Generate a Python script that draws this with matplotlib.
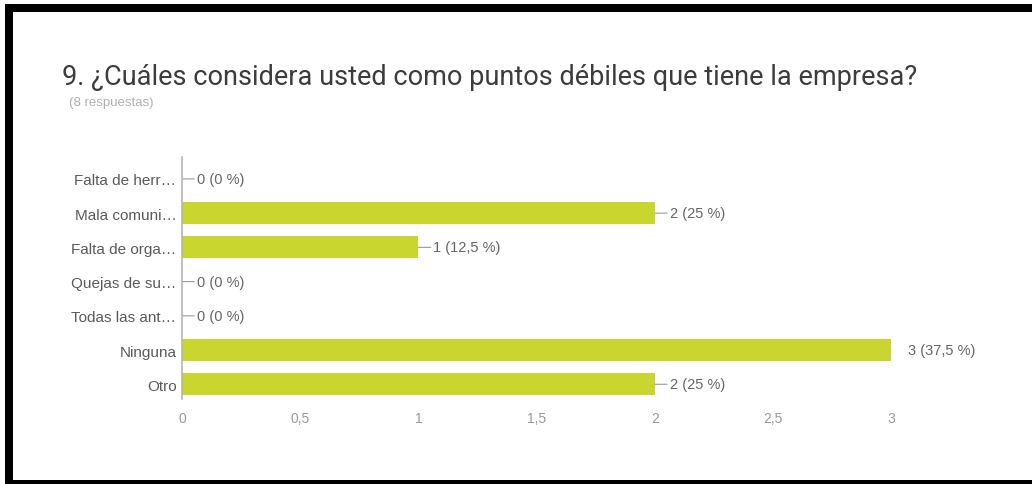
import matplotlib
matplotlib.use("Agg")
import matplotlib.pyplot as plt
from matplotlib.patches import Rectangle

# Survey answers (question 9)
categories = [
    "Falta de herr…",
    "Mala comuni…",
    "Falta de orga…",
    "Quejas de su…",
    "Todas las ant…",
    "Ninguna",
    "Otro",
]
counts = [0, 2, 1, 0, 0, 3, 2]
percents = ["0 %", "25 %", "12,5 %", "0 %", "0 %", "37,5 %", "25 %"]
x_ticks = [0, 0.5, 1, 1.5, 2, 2.5, 3]
x_tick_labels = ["0", "0,5", "1", "1,5", "2", "2,5", "3"]

title = "9. ¿Cuáles considera usted como puntos débiles que tiene la empresa?"
subtitle = "(8 respuestas)"

W, H = 1032, 485
fig = plt.figure(figsize=(W / 100, H / 100), dpi=100)
fig.patch.set_facecolor("white")


def fx(px):
    return px / W


def fy(py):
    return 1 - py / H


# black frame (top, left, bottom)
for (x0, y0, x1, y1) in [(5, 5, W, 13), (5, 5, 13, H), (5, 481, W, H)]:
    fig.add_artist(Rectangle((fx(x0), fy(y1)), fx(x1) - fx(x0), fy(y0) - fy(y1),
                             transform=fig.transFigure, color="black", lw=0))

fig.text(fx(62), fy(85), title, family="Roboto", fontsize=19.5, color="#3c3c3c",
         va="baseline", ha="left")
fig.text(fx(69), fy(106), subtitle, family="Liberation Sans", fontsize=9.5,
         color="#b0b0b0", va="baseline", ha="left")

left, right, top, bottom = 182, 986, 158, 400
ax = fig.add_axes([fx(left), fy(bottom), fx(right) - fx(left), fy(top) - fy(bottom)])
ax.set_xlim(0, 3.4)
ax.set_ylim(6.43, -0.64)

bar_color = "#c8d62f"
ax.barh(range(len(categories)), counts, height=0.64, color=bar_color, zorder=2)

label_font = dict(family="Liberation Sans", fontsize=10.5, color="#666666")
for i, (c, p) in enumerate(zip(counts, percents)):
    label = f"{c} ({p})"
    if c == max(counts):
        ax.annotate(label, xy=(c, i), xytext=(17, 0), textcoords="offset pixels",
                    va="center", ha="left", **label_font)
    else:
        ax.annotate(label, xy=(c, i), xytext=(15, 0), textcoords="offset pixels",
                    va="center", ha="left", **label_font,
                    arrowprops=dict(arrowstyle="-", color="#9a9a9a", lw=0.8,
                                    shrinkA=0, shrinkB=0))

ax.set_yticks(range(len(categories)))
ax.set_yticklabels(categories, family="Liberation Sans", fontsize=11, color="#5a5a5a")
ax.set_xticks(x_ticks)
ax.set_xticklabels(x_tick_labels, family="Liberation Sans", fontsize=10, color="#999999")
ax.tick_params(axis="y", length=0, pad=4)
ax.tick_params(axis="x", length=0, pad=9)

for side in ["top", "right", "bottom"]:
    ax.spines[side].set_visible(False)
ax.spines["left"].set_color("#b5b5b5")
ax.spines["left"].set_linewidth(1.2)
ax.spines["left"].set_zorder(3)
ax.set_facecolor("none")

fig.savefig("out.png", dpi=100)
